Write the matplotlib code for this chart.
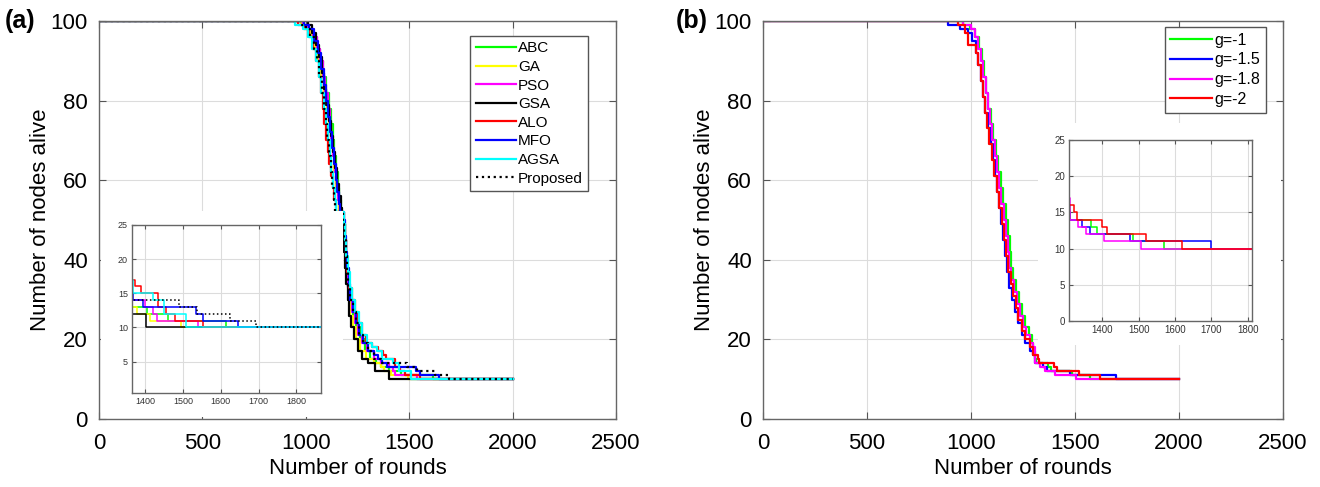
import matplotlib
matplotlib.use("Agg")
import matplotlib.pyplot as plt
from matplotlib.patches import Rectangle

plt.rcParams['font.family'] = ['Liberation Sans', 'DejaVu Sans']

# ---- (a) algorithms ----
abc_rounds = [0, 985, 1010, 1035, 1055, 1070, 1085, 1098, 1110, 1120, 1130, 1138, 1146, 1154, 1162, 1170,
              1180, 1188, 1194, 1200, 1208, 1218, 1230, 1245, 1262, 1285, 1310, 1340, 1366, 1404, 1461, 1613, 2000]
abc_alive = [100, 99, 98, 96, 93, 90, 86, 82, 78, 74, 70, 66, 62, 58, 55, 52,
             49, 45, 41, 37, 33, 29, 26, 23, 20, 17, 15, 14, 13, 12, 11, 10, 10]

ga_rounds = [0, 975, 1000, 1025, 1045, 1060, 1075, 1090, 1102, 1112, 1122, 1130, 1138, 1146, 1154, 1162,
             1178, 1184, 1188, 1194, 1200, 1208, 1216, 1228, 1242, 1262, 1290, 1330, 1366, 1378, 1413, 1495, 2000]
ga_alive = [100, 99, 98, 96, 93, 90, 86, 82, 78, 74, 70, 66, 62, 58, 55, 52,
            50, 46, 42, 38, 34, 30, 26, 23, 20, 17, 15, 14, 13, 12, 11, 10, 10]

pso_rounds = [0, 985, 1010, 1035, 1055, 1070, 1082, 1094, 1105, 1115, 1124, 1133, 1142, 1150, 1158, 1166,
              1182, 1187, 1192, 1197, 1204, 1212, 1222, 1236, 1252, 1270, 1295, 1330, 1366, 1400, 1420, 1432,
              1540, 2000]
pso_alive = [100, 99, 98, 96, 93, 90, 86, 82, 78, 74, 70, 66, 62, 58, 55, 52,
             49, 45, 41, 37, 33, 30, 27, 24, 21, 19, 17, 15, 14, 13, 12, 11, 10, 10]

gsa_rounds = [0, 1010, 1030, 1050, 1065, 1078, 1090, 1100, 1110, 1120, 1130, 1140, 1150, 1160, 1168, 1175,
              1182, 1186, 1190, 1196, 1202, 1210, 1220, 1232, 1250, 1270, 1300, 1335, 1402, 2000]
gsa_alive = [100, 99, 97, 94, 91, 87, 83, 79, 75, 71, 67, 63, 59, 56, 53, 50,
             46, 42, 38, 34, 30, 26, 23, 20, 17, 15, 14, 12, 10, 10]

alo_rounds = [0, 960, 990, 1015, 1035, 1050, 1062, 1072, 1082, 1090, 1098, 1106, 1114, 1122, 1130, 1138,
              1146, 1185, 1190, 1195, 1200, 1210, 1222, 1236, 1252, 1270, 1290, 1320, 1350, 1372, 1390, 1433,
              1455, 1479, 1552, 2000]
alo_alive = [100, 99, 98, 96, 93, 90, 86, 82, 78, 74, 70, 67, 64, 61, 58, 55,
             52, 49, 45, 41, 37, 33, 30, 27, 24, 21, 19, 18, 17, 16, 15, 13, 12, 11, 10, 10]

mfo_rounds = [0, 990, 1015, 1040, 1058, 1072, 1086, 1098, 1108, 1118, 1128, 1137, 1145, 1153, 1160, 1166,
              1185, 1190, 1195, 1200, 1208, 1216, 1228, 1242, 1258, 1276, 1300, 1330, 1350, 1368, 1393, 1534,
              1552, 1646, 2000]
mfo_alive = [100, 99, 98, 95, 92, 88, 84, 80, 76, 72, 68, 64, 60, 57, 54, 52,
             50, 46, 42, 38, 34, 30, 27, 24, 21, 19, 17, 16, 15, 14, 13, 12, 11, 10, 10]

agsa_rounds = [0, 950, 985, 1010, 1032, 1048, 1062, 1075, 1087, 1097, 1106, 1115, 1123, 1131, 1139, 1148,
               1184, 1190, 1196, 1202, 1212, 1224, 1238, 1255, 1272, 1295, 1320, 1345, 1368, 1420, 1449, 1507, 2000]
agsa_alive = [100, 99, 98, 96, 93, 90, 86, 82, 78, 74, 70, 66, 62, 58, 55, 52,
              49, 45, 41, 37, 33, 30, 27, 24, 21, 19, 18, 17, 15, 14, 12, 10, 10]

prop_rounds = [0, 975, 1000, 1022, 1040, 1054, 1066, 1077, 1087, 1096, 1104, 1112, 1120, 1128, 1135, 1140,
               1180, 1186, 1192, 1198, 1206, 1216, 1228, 1242, 1258, 1275, 1300, 1330, 1366, 1490, 1536, 1624,
               1694, 2000]
prop_alive = [100, 99, 98, 96, 93, 90, 86, 82, 78, 74, 70, 66, 62, 58, 55, 52,
              49, 45, 41, 37, 33, 30, 27, 24, 21, 19, 17, 15, 14, 13, 12, 11, 10, 10]

# ---- (b) g values ----
g1_rounds = [0, 960, 995, 1020, 1040, 1052, 1064, 1074, 1084, 1096, 1108, 1120, 1132, 1143, 1155, 1168,
             1178, 1186, 1194, 1204, 1218, 1232, 1246, 1262, 1280, 1292, 1300, 1308, 1310, 1312, 1368, 1384,
             1484, 1571, 2000]
g1_alive = [100, 99, 98, 96, 93, 90, 86, 82, 78, 74, 70, 66, 62, 58, 54, 50,
            46, 42, 38, 35, 32, 29, 26, 23, 21, 19, 17, 16, 15, 14, 13, 12, 11, 10, 10]

g15_rounds = [0, 890, 945, 985, 1005, 1022, 1036, 1048, 1058, 1068, 1082, 1094, 1104, 1114, 1124, 1134,
              1145, 1155, 1164, 1174, 1184, 1198, 1212, 1228, 1244, 1262, 1282, 1300, 1308, 1310, 1344, 1366,
              1477, 1699, 2000]
g15_alive = [100, 99, 98, 97, 95, 92, 89, 85, 81, 77, 73, 69, 65, 61, 57, 53,
             49, 45, 41, 37, 33, 30, 27, 24, 21, 19, 17, 16, 15, 14, 13, 12, 11, 10, 10]

g18_rounds = [0, 960, 1000, 1020, 1036, 1048, 1060, 1070, 1080, 1091, 1102, 1113, 1124, 1135, 1146, 1158,
              1168, 1176, 1184, 1194, 1206, 1220, 1234, 1250, 1266, 1284, 1300, 1308, 1310, 1333, 1356, 1405,
              1506, 2000]
g18_alive = [100, 99, 98, 96, 93, 90, 86, 82, 78, 74, 70, 66, 62, 58, 54, 50,
             46, 42, 38, 35, 32, 29, 26, 23, 21, 19, 18, 17, 14, 13, 12, 11, 10, 10]

g2_rounds = [0, 938, 970, 985, 1022, 1035, 1046, 1056, 1066, 1076, 1088, 1100, 1112, 1124, 1136, 1148,
             1160, 1170, 1180, 1192, 1204, 1216, 1228, 1244, 1262, 1282, 1300, 1321, 1329, 1400, 1414, 1519,
             1619, 2000]
g2_alive = [100, 99, 97, 94, 92, 89, 85, 81, 77, 73, 69, 65, 61, 57, 53, 49,
            45, 41, 37, 34, 31, 28, 25, 22, 20, 18, 16, 15, 14, 13, 12, 11, 10, 10]

series_a = [
    ('ABC', abc_rounds, abc_alive, '#00ff00', '-'),
    ('GA', ga_rounds, ga_alive, '#ffff00', '-'),
    ('PSO', pso_rounds, pso_alive, '#ff00ff', '-'),
    ('GSA', gsa_rounds, gsa_alive, '#000000', '-'),
    ('ALO', alo_rounds, alo_alive, '#ff0000', '-'),
    ('MFO', mfo_rounds, mfo_alive, '#0000ff', '-'),
    ('AGSA', agsa_rounds, agsa_alive, '#00ffff', '-'),
    ('Proposed', prop_rounds, prop_alive, '#000000', ':'),
]
series_b = [
    ('g=-1', g1_rounds, g1_alive, '#00ff00', '-'),
    ('g=-1.5', g15_rounds, g15_alive, '#0000ff', '-'),
    ('g=-1.8', g18_rounds, g18_alive, '#ff00ff', '-'),
    ('g=-2', g2_rounds, g2_alive, '#ff0000', '-'),
]

W, H = 1320, 487


def box(x0, y0, x1, y1):
    # pixel box (top-left origin) -> figure fraction
    return [x0 / W, 1 - y1 / H, (x1 - x0) / W, (y1 - y0) / H]


def style_axes(ax, labelsize, pad, length):
    ax.grid(True, color='#dcdcdc', linewidth=0.8)
    ax.set_axisbelow(True)
    ax.tick_params(direction='in', top=True, right=True, length=length, width=0.8,
                   labelsize=labelsize, pad=pad, color='#555555')
    for sp in ax.spines.values():
        sp.set_color('#666666')
        sp.set_linewidth(1.0)


def draw_main(ax, series, legend_anchor, legend_size):
    for name, x, y, c, ls in series:
        ax.plot(x, y, color=c, linestyle=ls, linewidth=1.6, drawstyle='steps-post', label=name)
    ax.set_xlim(0, 2500)
    ax.set_ylim(0, 100)
    ax.set_xticks(range(0, 2501, 500))
    ax.set_yticks(range(0, 101, 20))
    style_axes(ax, 16, 8, 5)
    ax.tick_params(axis='x', pad=10)
    ax.set_xlabel('Number of rounds', fontsize=16, labelpad=3)
    ax.set_ylabel('Number of nodes alive', fontsize=16, labelpad=0)
    leg = ax.legend(loc='upper right', bbox_to_anchor=legend_anchor, fontsize=legend_size,
                    handlelength=2.6, handletextpad=0.15, labelspacing=0.3, borderpad=0.35,
                    borderaxespad=0, fancybox=False, framealpha=1, edgecolor='#555555')
    leg.get_frame().set_linewidth(1.0)


def draw_inset(rect, series, xlim, yticks, ylim, size):
    ins = fig.add_axes(rect, zorder=2)
    for name, x, y, c, ls in series:
        ins.plot(x, y, color=c, linestyle=ls, linewidth=1.1, drawstyle='steps-post')
    ins.set_xlim(*xlim)
    ins.set_ylim(*ylim)
    ins.set_xticks([1400, 1500, 1600, 1700, 1800])
    ins.set_yticks(yticks)
    style_axes(ins, size, 3, 3)
    ins.tick_params(labelcolor='#333333')
    return ins


fig = plt.figure(figsize=(W / 100, H / 100), dpi=100)

ax1 = fig.add_axes(box(99, 21, 616, 419))
ax2 = fig.add_axes(box(763, 21, 1283, 419))

draw_main(ax1, series_a, (0.946, 0.962), 11)
draw_main(ax2, series_b, (0.967, 0.985), 11.5)

# white panels behind the zoomed views
for x0, y0, x1, y1 in [(101, 211, 343, 417), (1038, 123, 1281, 345)]:
    fig.add_artist(Rectangle((x0 / W, 1 - y1 / H), (x1 - x0) / W, (y1 - y0) / H,
                             transform=fig.transFigure, facecolor='white', edgecolor='none', zorder=1))

draw_inset(box(132, 225, 321, 393), series_a, (1365, 1865), [5, 10, 15, 20, 25], (0.4, 25), 6.5)
draw_inset(box(1069, 140, 1252, 321), series_b, (1308, 1812), [0, 5, 10, 15, 20, 25], (0, 25), 7)

fig.text(5 / W, 1 - 21 / H, '(a)', fontsize=18, fontweight='bold', va='center', ha='left')
fig.text(676 / W, 1 - 21 / H, '(b)', fontsize=18, fontweight='bold', va='center', ha='left')

fig.savefig('out.png', dpi=100)
